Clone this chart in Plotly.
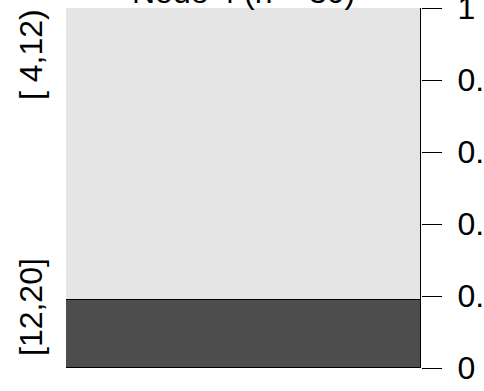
import plotly.graph_objects as go

node_title = "Node 4 (n = 30)"
categories = ["[12,20]", "[ 4,12)"]
proportions = [0.19, 0.81]
colors = ["#4d4d4d", "#e5e5e5"]
tick_vals = [0, 0.2, 0.4, 0.6, 0.8, 1]
tick_text = ["0", "0.2", "0.4", "0.6", "0.8", "1"]
label_pos = [0.17, 0.87]

FONT = "Liberation Sans, Arial, sans-serif"
FS = 32

fig = go.Figure()
for cat, p, c in zip(categories, proportions, colors):
    fig.add_trace(go.Bar(
        x=["node"], y=[p], name=cat, marker_color=c,
        marker_line_color="black", marker_line_width=1.2, width=1,
        showlegend=False, hoverinfo="skip"))

for cat, yp in zip(categories, label_pos):
    fig.add_annotation(text=cat, xref="paper", yref="paper", x=-0.098, y=yp,
                       showarrow=False, textangle=-90, xanchor="center", yanchor="middle",
                       font=dict(size=FS, color="black", family=FONT))

fig.add_annotation(text=node_title, xref="paper", yref="paper", x=0.5, y=1,
                   showarrow=False, xanchor="center", yanchor="bottom", yshift=-4,
                   font=dict(size=FS, color="black", family=FONT))

fig.update_layout(
    width=484, height=391, barmode="stack", bargap=0,
    margin=dict(l=66, r=63, t=8, b=23, autoexpand=False),
    plot_bgcolor="white", paper_bgcolor="white",
    font=dict(family=FONT, size=FS, color="black"),
    xaxis=dict(visible=False, range=[-0.5, 0.5], automargin=False),
    yaxis=dict(side="right", range=[0, 1], tickvals=tick_vals, ticktext=tick_text,
               ticks="outside", ticklen=20, tickwidth=1.2, tickcolor="black",
               showgrid=False, zeroline=False, showline=False, automargin=False,
               ticklabeloverflow="allow",
               tickfont=dict(size=FS, color="black", family=FONT), ticklabelstandoff=9),
)

fig.write_html("out.html", config={"displayModeBar": False},
               post_script="document.body.style.margin='0';document.body.style.overflow='hidden';")
